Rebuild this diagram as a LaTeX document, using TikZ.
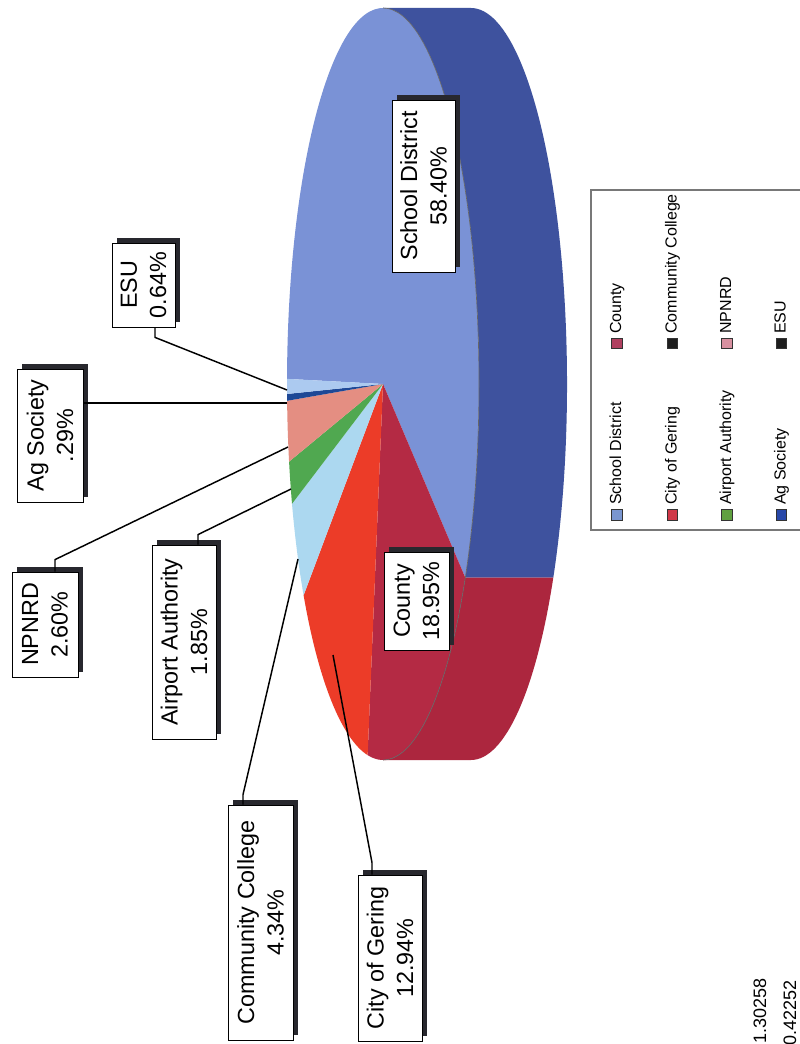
\documentclass[tikz,border=0pt]{standalone}
\usepackage{fontspec}
\setmainfont{Liberation Sans}
\usetikzlibrary{calc}
\pgfdeclarelayer{pielayer}
\pgfdeclarelayer{shadowlayer}
\pgfsetlayers{pielayer,shadowlayer,main}
\definecolor{sdTop}{RGB}{122,146,214}
\definecolor{sdSide}{RGB}{62,82,158}
\definecolor{coTop}{RGB}{180,42,68}
\definecolor{coSide}{RGB}{172,38,62}
\definecolor{cgTop}{RGB}{236,60,40}
\definecolor{ccTop}{RGB}{172,216,240}
\definecolor{aaTop}{RGB}{80,168,80}
\definecolor{npTop}{RGB}{228,142,130}
\definecolor{agTop}{RGB}{30,72,150}
\definecolor{esTop}{RGB}{172,202,240}
\definecolor{shadowc}{RGB}{40,40,46}
\definecolor{legline}{RGB}{120,120,120}
\definecolor{mkSD}{RGB}{122,150,208}
\definecolor{mkCO}{RGB}{176,64,96}
\definecolor{mkCG}{RGB}{208,56,72}
\definecolor{mkAA}{RGB}{96,160,64}
\definecolor{mkNP}{RGB}{216,144,160}
\definecolor{mkAG}{RGB}{40,72,168}
\definecolor{mkDK}{RGB}{30,30,30}
\tikzset{
  lbl/.style={draw=black, line width=0.6pt, fill=white, rotate=90, align=center,
    inner sep=0pt, font=\fontsize{17.5}{22}\selectfont},
  boxsize/.style 2 args={minimum width={(#2)*0.75pt}, minimum height={(#1)*0.75pt}},
  leader/.style={draw=black, line width=1.1pt},
  legtxt/.style={rotate=90, anchor=west, inner sep=0pt, text height=8.5pt,
    text depth=2.5pt, font=\fontsize{12}{13}\selectfont},
  legmark/.style={draw=black!80, line width=0.7pt, minimum size=8pt, inner sep=0pt},
  numtxt/.style={rotate=90, anchor=west, inner sep=0pt, font=\fontsize{13.5}{15}\selectfont},
  rimline/.style={draw=black!60, line width=0.5pt},
  legframe/.style={draw=legline, line width=1pt},
}
\newcommand\pieslice[3]{\fill[#3] (383,384) -- ({383+96*cos(#1)},{384+376*sin(#1)})
  arc[start angle=#1, end angle=#2, x radius=96, y radius=376] -- cycle;}
\begin{document}
\begin{tikzpicture}[x=0.75pt,y=-0.75pt]
\useasboundingbox (0,0) rectangle (799,1044);

% ---- pie ----
\begin{pgfonlayer}{pielayer}
\fill[white] (0,0) rectangle (799,1044);
% side (depth)
\fill[sdSide] (383,8) arc[start angle=-90, end angle=31, x radius=96, y radius=376]
  -- ++(88,0) arc[start angle=31, end angle=-90, x radius=96, y radius=376] -- cycle;
\fill[coSide] ({383+96*cos(31)},{384+376*sin(31)})
  arc[start angle=31, end angle=90, x radius=96, y radius=376]
  -- ++(88,0) arc[start angle=90, end angle=31, x radius=96, y radius=376] -- cycle;
% top face
\pieslice{180.78}{391}{sdTop}
\pieslice{31}{99.22}{coTop}
\pieslice{99.22}{145.80}{cgTop}
\pieslice{145.80}{161.42}{ccTop}
\pieslice{161.42}{168.08}{aaTop}
\pieslice{168.08}{177.44}{npTop}
\pieslice{177.44}{178.48}{agTop}
\pieslice{178.48}{180.78}{esTop}
\draw[rimline] (383,8) arc[start angle=-90, end angle=90, x radius=96, y radius=376];
\end{pgfonlayer}

% ---- labels ----
\node[lbl, boxsize={63}{84}]  (esu) at (143.5,285)   {ESU\\0.64\%};
\node[lbl, boxsize={66}{133}] (ag)  at (50,435.5)    {Ag Society\\.29\%};
\node[lbl, boxsize={66}{105}] (np)  at (45,624.5)    {NPNRD\\2.60\%};
\node[lbl, boxsize={64}{194}] (aa)  at (184,642)     {Airport Authority\\1.85\%};
\node[lbl, boxsize={65}{235}] (cc)  at (260.5,922.5) {Community College\\4.34\%};
\node[lbl, boxsize={64}{166}] (cg)  at (390,958)     {City of Gering\\12.94\%};
\node[lbl, boxsize={65}{98}]  (co)  at (416.5,601)   {County\\18.95\%};
\node[lbl, boxsize={63}{172}] (sd)  at (423.5,186)   {School District\\58.40\%};

\begin{pgfonlayer}{shadowlayer}
\foreach \n in {esu,ag,np,aa,cc,cg,co,sd}
  \fill[shadowc] ($(\n.south west)+(5,-5)$) rectangle ($(\n.north east)+(5,-5)$);
\end{pgfonlayer}

% ---- leader lines ----
\coordinate (pES) at (287,390);
\coordinate (pAG) at (287,403);
\coordinate (pNP) at (288,447);
\coordinate (pAA) at (291,489);
\coordinate (pCC) at (298,559);
\coordinate (pCG) at (333,655);
\draw[leader] ($(esu.west)+(11.5,0)$) -- ++(0,10) -- (pES);
\draw[leader] ($(ag.south)+(0,-32.5)$) -- (pAG);
\draw[leader] ($(np.east)+(10,0)$) -- ++(0,-12) -- (pNP);
\draw[leader] ($(aa.east)+(14,0)$) -- ++(0,-10) -- (pAA);
\draw[leader] ($(cc.east)+(-17.5,0)$) -- ++(0,-10) -- (pCC);
\draw[leader] ($(cg.east)+(-18,0)$) -- ++(0,-12) -- (pCG);

% ---- legend ----
\draw[legframe] (805,190) -- (591,190) -- (591,530) -- (805,530);
\node[legmark, fill=mkSD] (m1) at (617,515) {};
\node[legtxt] (t1) at (617,505) {School District};
\node[legmark, fill=mkCO] (m2) at (617,343.5) {};
\node[legtxt] (t2) at (617,334) {County};
\node[legmark, fill=mkCG] (m3) at (672.5,515) {};
\node[legtxt] (t3) at (672.5,505) {City of Gering};
\node[legmark, fill=mkDK] (m4) at (672.5,343.5) {};
\node[legtxt] (t4) at (672.5,334) {Community College};
\node[legmark, fill=mkAA] (m5) at (727,515) {};
\node[legtxt] (t5) at (727,505) {Airport Authority};
\node[legmark, fill=mkNP] (m6) at (727,343.5) {};
\node[legtxt] (t6) at (727,334) {NPNRD};
\node[legmark, fill=mkAG] (m7) at (781.5,515) {};
\node[legtxt] (t7) at (781.5,505) {Ag Society};
\node[legmark, fill=mkDK] (m8) at (781.5,343.5) {};
\node[legtxt] (t8) at (781.5,334) {ESU};

% ---- stray numbers ----
\node[numtxt] (n1) at (760,1044) {1.30258};
\node[numtxt] (n2) at (790,1046) {0.42252};
\end{tikzpicture}
\end{document}
